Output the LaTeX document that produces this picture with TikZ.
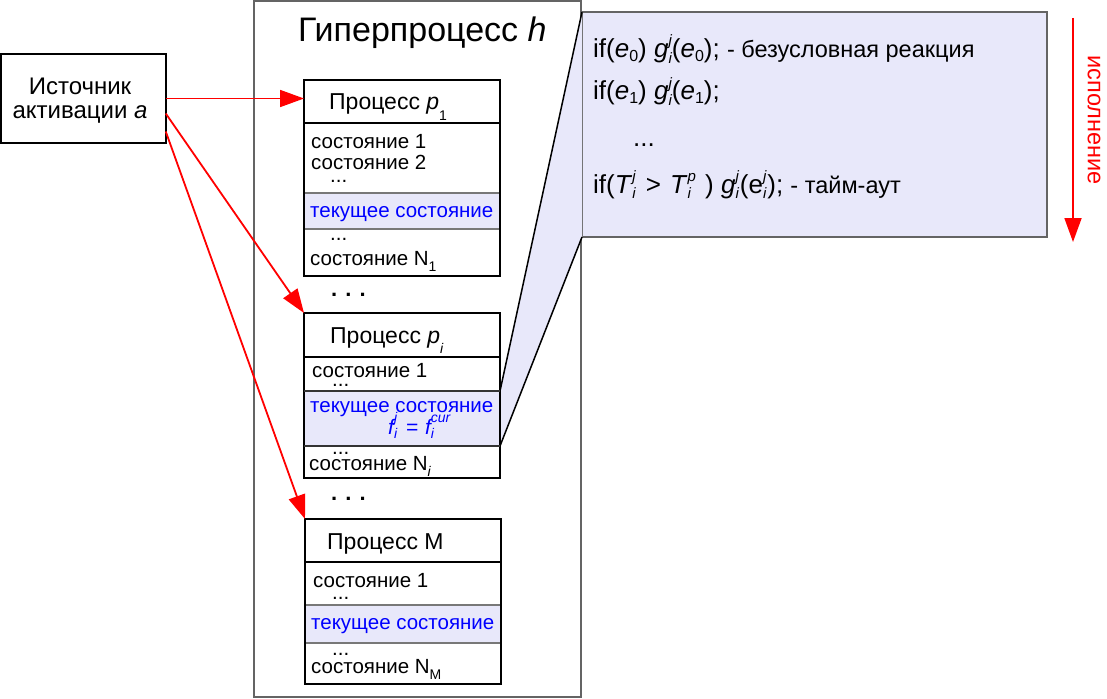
\documentclass[tikz,border=0pt]{standalone}
\usepackage{fontspec}
\setmainfont{Liberation Sans}
\usetikzlibrary{arrows.meta}
\definecolor{lav}{RGB}{232,232,250}
\definecolor{bdgray}{RGB}{100,100,100}
\definecolor{bandgray}{RGB}{120,120,120}
\definecolor{blu}{RGB}{0,0,255}
\newcommand{\fsz}[2]{\fontsize{#1}{#2}\selectfont}
\newcommand{\Sub}[2][0.3em]{\raisebox{-#1}{\fsz{14}{14}#2}}
\newcommand{\SubR}[2][0.15em]{\raisebox{-#1}{\fsz{16}{16}#2}}
\newcommand{\SupSub}[3]{{\fsz{#1}{#1}\itshape\setbox0\hbox{#2}\setbox2\hbox{#3}%
  \ifdim\wd0>\wd2 \rlap{\raisebox{-0.35em}{#3}}\raisebox{0.8em}{#2}%
  \else\rlap{\raisebox{0.8em}{#2}}\raisebox{-0.35em}{#3}\fi}}
\tikzset{
  pbox/.style={draw=black, line width=2pt, anchor=north west, inner sep=0pt, outer sep=0pt, minimum width=196pt},
  band/.style={draw=bandgray, fill=lav, line width=1.2pt, anchor=north west, inner sep=0pt, outer sep=0pt, minimum width=196pt},
  st/.style={anchor=base west, inner sep=0pt, font=\fsz{20.5}{24}},
  cur/.style={st, text=blu},
  hdr/.style={anchor=base west, inner sep=0pt, font=\fsz{23}{27}},
  rt/.style={anchor=base west, inner sep=0pt, font=\fsz{26}{30}},
  bigdots/.style={anchor=base west, inner sep=0pt, font=\bfseries\fsz{22}{22}},
  arr/.style={draw=red, line width=1.8pt, -{Triangle[length=24pt,width=17pt]}},
}
\begin{document}
\begin{tikzpicture}[x=1pt,y=-1pt]
\useasboundingbox (0,0) rectangle (1107,698);
% hyperprocess
\node[draw=bdgray, line width=1.5pt, anchor=north west, inner sep=0pt, outer sep=0pt,
      minimum width=327pt, minimum height=696pt] (hyp) at (254,1) {};
\node[anchor=base west, inner sep=0pt, font=\fsz{34}{40}] (title) at (298,42) {Гиперпроцесс \textit{h}};
% source
\node[draw, line width=1.5pt, anchor=north west, inner sep=0pt, outer sep=0pt,
      minimum width=165pt, minimum height=89pt] (src) at (0.75,54) {};
\node[anchor=base, inner sep=0pt, font=\fsz{24}{28}] (srcA) at (80,95) {Источник};
\node[anchor=base, inner sep=0pt, font=\fsz{24}{28}] (srcB) at (80,118) {активации \textit{a}};
% process 1
\node[band, minimum height=36pt] (p1c) at (304,193) {};
\node[pbox, minimum height=43pt] (p1h) at (304,80) {};
\node[pbox, minimum height=153pt] (p1b) at (304,123) {};
\node[hdr] (p1t) at (329,110) {Процесс \textit{p}\Sub[0.45em]{1}};
\node[st] (p1s1) at (311,148) {состояние 1};
\node[st] (p1s2) at (311,169) {состояние 2};
\node[st] (p1d1) at (330,182) {...};
\node[cur] (p1cur) at (310,217) {текущее состояние};
\node[st] (p1d2) at (330,240) {...};
\node[st] (p1sn) at (310,265) {состояние N\Sub{1}};
\node[bigdots] (dots1) at (331,296) {. . .};
% right code box and zoom
\node[draw=bdgray, fill=lav, line width=1.5pt, anchor=north west, inner sep=0pt, outer sep=0pt,
      minimum width=465pt, minimum height=225pt] (cbox) at (582,12) {};
\node[band, minimum height=55pt] (p2c) at (304,391) {};
\fill[lav] (p2c.north east) -- (cbox.north west) -- (cbox.south west) -- (p2c.south east) -- cycle;
\draw[line width=1.5pt] (p2c.north east) -- (cbox.north west);
\draw[line width=1.5pt] (p2c.south east) -- (cbox.south west);
\node[rt] (r1) at (593,58) {if(\textit{e}\SubR{0}) \textit{g}\SupSub{15}{j}{i}(\textit{e}\SubR{0}); {\fsz{23.5}{27}- безусловная реакция}};
\node[rt] (r2) at (593,100) {if(\textit{e}\SubR{1}) \textit{g}\SupSub{15}{j}{i}(\textit{e}\SubR{1});};
\node[rt] (r3) at (633,146) {...};
\node[rt] (r4) at (593,193) {if(\textit{T}\SupSub{15}{j}{i}\hspace{3pt} >\hspace{2pt} \textit{T}\SupSub{15}{p}{i}\hspace{2pt} ) \textit{g}\SupSub{15}{j}{i}\hspace{1pt}(e\SupSub{15}{j}{i}\hspace{1pt}); {\fsz{23.5}{27}- тайм-аут}};
% process i
\node[pbox, minimum height=44pt] (p2h) at (304,313) {};
\node[pbox, minimum height=121pt] (p2b) at (304,357) {};
\draw[line width=1.2pt, draw=black!80] (p2c.north west) -- (p2c.north east);
\draw[line width=1.2pt, draw=black!80] (p2c.south west) -- (p2c.south east);
\node[hdr] (p2t) at (330,343) {Процесс \textit{p}\Sub[0.45em]{\textit{i}}};
\node[st] (p2s1) at (312,377) {состояние 1};
\node[st] (p2d1) at (332,386) {...};
\node[cur] (p2cur) at (310,412) {текущее состояние};
\node[cur, font=\itshape\fsz{21}{24}] (p2f) at (388,434) {f\SupSub{14}{j}{i}\hspace{3pt} = \hspace{1pt}f\SupSub{14}{cur}{i}};
\node[st] (p2d2) at (332,454) {...};
\node[st] (p2sn) at (309,470) {состояние N\Sub{\textit{i}}};
\node[bigdots] (dots2) at (331,500) {. . .};
% process M
\node[band, minimum height=38pt] (p3c) at (305,605) {};
\node[pbox, minimum height=43pt] (p3h) at (305,519) {};
\node[pbox, minimum height=122pt] (p3b) at (305,562) {};
\node[hdr] (p3t) at (327,549) {Процесс M};
\node[st] (p3s1) at (313,587) {состояние 1};
\node[st] (p3d1) at (332,599) {...};
\node[cur] (p3cur) at (311,629) {текущее состояние};
\node[st] (p3d2) at (332,655) {...};
\node[st] (p3sn) at (311,673) {состояние N\Sub{M}};
% arrows
\draw[arr] (src.east) -- (src.east -| p1h.west);
\draw[arr] ([yshift=-15pt]src.east) -- (p2h.north west);
\draw[arr] ([yshift=-33pt]src.east) -- (p3h.north west);
% execution arrow
\coordinate (ex1) at (1073,18);
\coordinate (ex2) at (1073,242);
\draw[arr] (ex1) -- (ex2);
\node[rotate=-90, text=red, inner sep=0pt, font=\fsz{23.5}{27}] (exl) at (1094,120) {исполнение};
\end{tikzpicture}
\end{document}
